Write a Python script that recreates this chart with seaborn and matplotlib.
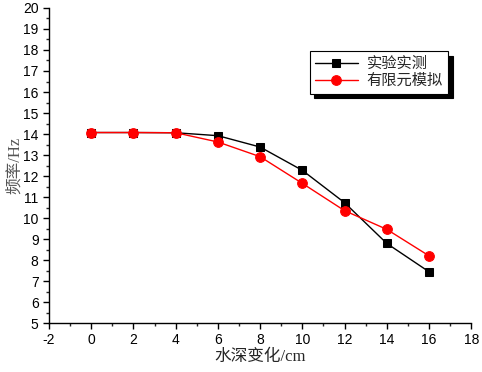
import numpy as np
import pandas as pd
import matplotlib
matplotlib.use('Agg')
import matplotlib.pyplot as plt
import seaborn as sns
from matplotlib.ticker import MultipleLocator

# data
depth = [0, 2, 4, 6, 8, 10, 12, 14, 16]
measured = [14.07, 14.07, 14.06, 13.92, 13.38, 12.27, 10.73, 8.79, 7.44]
simulated = [14.07, 14.07, 14.06, 13.62, 12.92, 11.65, 10.35, 9.46, 8.20]
labels = ['实验实测', '有限元模拟']

sns.set_style('ticks')
plt.rcParams['font.family'] = ['Liberation Sans', 'Noto Sans CJK SC']
plt.rcParams['axes.unicode_minus'] = False

fig = plt.figure(figsize=(4.82, 3.72), dpi=100)
ax = fig.add_axes([0.1017, 0.1317, 0.8759, 0.8468])

sns.lineplot(x=depth, y=measured, ax=ax, color='black', marker='s', markersize=6,
             markeredgecolor='black', linewidth=1, label=labels[0])
sns.lineplot(x=depth, y=simulated, ax=ax, color='red', marker='o', markersize=7,
             markeredgecolor='red', linewidth=1, label=labels[1])

ax.set_xlim(-2, 18)
ax.set_ylim(5, 20)
ax.xaxis.set_major_locator(MultipleLocator(2))
ax.xaxis.set_minor_locator(MultipleLocator(1))
ax.yaxis.set_major_locator(MultipleLocator(1))
ax.yaxis.set_minor_locator(MultipleLocator(0.5))
ax.tick_params(which='major', length=4, width=1, labelsize=10, colors='black')
ax.tick_params(which='minor', length=2.5, width=1)
for s in ['top', 'right']:
    ax.spines[s].set_visible(False)
for s in ['left', 'bottom']:
    ax.spines[s].set_color('black')
    ax.spines[s].set_linewidth(1)

lab_font = ['Liberation Serif', 'Noto Sans CJK SC']
ax.set_xlabel('水深变化/cm', fontsize=12, family=lab_font, labelpad=1)
ax.set_ylabel('频率/Hz', fontsize=12, family=lab_font, color='#555555', labelpad=0)

leg = ax.legend(loc='upper left', bbox_to_anchor=(0.617, 0.862), frameon=True,
                fancybox=False,
                shadow={'color': 'black', 'alpha': 1, 'ox': 3, 'oy': -3},
                edgecolor='black', framealpha=1, borderaxespad=0, handlelength=2.8,
                labelspacing=0.2, borderpad=0.35, handletextpad=0.6,
                prop={'family': lab_font, 'size': 11})
leg.get_frame().set_linewidth(0.8)

fig.savefig('out.png', dpi=100)
